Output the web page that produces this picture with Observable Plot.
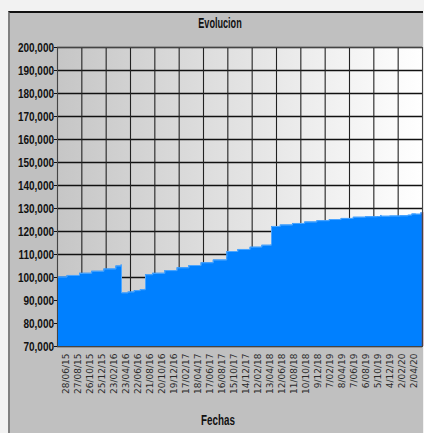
<!DOCTYPE html>
<html><head><meta charset="utf-8">
<script src="https://cdn.jsdelivr.net/npm/d3@7"></script>
<script src="https://cdn.jsdelivr.net/npm/@observablehq/plot@0.6"></script>
<style>
html,body{margin:0;padding:0;background:#f2f2f2;width:424px;height:433px;overflow:hidden;position:relative}
#frame{position:absolute;left:8px;top:11px;width:415px;height:422px;background:#c0c0c0;border-top:2px solid #111;border-left:2px solid #808080;box-sizing:border-box}
#title{position:absolute;left:0;top:15px;width:440px;text-align:center;font-family:"Liberation Sans",sans-serif;font-weight:bold;font-size:14px;color:#111;transform:scaleX(0.65);transform-origin:220px 0}
#xlabel{position:absolute;left:0;top:412px;width:436px;text-align:center;font-family:"Liberation Sans",sans-serif;font-weight:bold;font-size:14px;color:#111;transform:scaleX(0.7);transform-origin:218px 0}
#chart{position:absolute;left:0;top:0}
g[aria-label="y-axis tick label"]{font-family:"Liberation Sans",sans-serif;font-weight:bold;font-size:12.5px;fill:#111;transform:translate(54px,0.5px) scaleX(0.8) translate(-57px,0)}
g[aria-label="x-axis tick label"]{font-family:"DejaVu Sans",sans-serif;font-size:9px;fill:#2a2a2a}
</style></head>
<body>
<div id="frame"></div>
<div id="title">Evolucion</div>
<div id="chart"></div>
<div id="xlabel">Fechas</div>
<script>
const dates = ["2015-05-14","2015-07-01","2015-09-01","2015-11-01","2016-01-01","2016-03-01","2016-03-28",
  "2016-03-29","2016-05-01","2016-06-01","2016-07-01","2016-07-26",
  "2016-07-27","2016-09-01","2016-11-01","2017-01-01","2017-03-01","2017-05-01","2017-07-01","2017-09-06",
  "2017-09-07","2017-11-01","2018-01-01","2018-03-01","2018-04-17",
  "2018-04-18","2018-06-01","2018-08-01","2018-10-01","2018-12-01","2019-02-01","2019-04-01","2019-06-01",
  "2019-08-01","2019-10-01","2019-10-15","2019-10-20","2019-12-01","2020-01-23","2020-03-01","2020-03-20",
  "2020-04-10","2020-05-02","2020-05-12"];
const values = [100200,100900,101800,102700,103700,105000,105600,
  93300,93700,94300,94700,95000,
  101200,101800,103000,104200,105200,106400,107600,108900,
  111300,112200,113200,114000,114300,
  122200,122800,123500,124100,124700,125200,125700,126200,
  126400,126500,127000,126600,126700,126800,127100,127600,
  127500,128000,128200];
const xTickLabels = ["28/06/15","27/08/15","26/10/15","25/12/15","23/02/16","23/04/16","22/06/16","21/08/16",
  "20/10/16","19/12/16","17/02/17","18/04/17","17/06/17","16/08/17","15/10/17","14/12/17","12/02/18",
  "13/04/18","12/06/18","11/08/18","10/10/18","9/12/18","7/02/19","8/04/19","7/06/19","6/08/19",
  "5/10/19","4/12/19","2/02/20","2/04/20"];
const yTicks = [70000,80000,90000,100000,110000,120000,130000,140000,150000,160000,170000,180000,190000,200000];
const xDomain = ["2015-05-14","2020-05-12"];
const gridColumns = 15;

const parseISO = d3.utcParse("%Y-%m-%d");
const parseLbl = d3.utcParse("%d/%m/%y");
const fmtLbl = d3.utcFormat("%-d/%m/%y");
const data = dates.map((d,i)=>({date: parseISO(d), value: values[i]}));
const xTicks = xTickLabels.map(parseLbl);
const dom = xDomain.map(parseISO);
const span = dom[1]-dom[0];
const xGrid = d3.range(gridColumns+1).map(i=>new Date(+dom[0] + i*span/gridColumns));
const yMin = yTicks[0], yMax = yTicks[yTicks.length-1];
const last = data[data.length-1];

const defs = () => {
  const ns = "http://www.w3.org/2000/svg";
  const g = document.createElementNS(ns,"defs");
  g.innerHTML = '<linearGradient id="bg" x1="0" x2="1" y1="0" y2="0"><stop offset="0" stop-color="#c6c6c6"/><stop offset="1" stop-color="#ffffff"/></linearGradient>';
  return g;
};

const chart = Plot.plot({
  width: 424, height: 433,
  marginTop: 47, marginBottom: 87, marginLeft: 57, marginRight: 2,
  style: {background: "transparent", overflow: "visible"},
  x: {type: "utc", domain: dom, label: null},
  y: {domain: [yMin, yMax], label: null},
  marks: [
    defs,
    Plot.frame({fill: "url(#bg)"}),
    Plot.ruleY(yTicks, {stroke: "#111", strokeWidth: 1.3}),
    Plot.ruleX(xGrid, {stroke: "#222", strokeWidth: 1.1}),
    Plot.areaY(data, {x: "date", y1: yMin, y2: "value", curve: "step-after", fill: "#0080ff"}),
    Plot.line(data, {x: "date", y: "value", curve: "step-after", stroke: "#4da6ff", strokeWidth: 1}),
    Plot.ruleX([last], {x: "date", y1: yMin, y2: "value", stroke: "#a0304a", strokeWidth: 1.5}),
    Plot.frame({stroke: "#444", strokeWidth: 1}),
    Plot.axisY({ticks: yTicks, tickFormat: d3.format(","), tickSize: 3, tickPadding: 1, stroke: "#111", label: null}),
    Plot.axisX({ticks: xTicks, tickFormat: fmtLbl, tickRotate: -90, tickSize: 0, tickPadding: 7, label: null})
  ]
});
document.getElementById("chart").appendChild(chart);
</script>
</body></html>
